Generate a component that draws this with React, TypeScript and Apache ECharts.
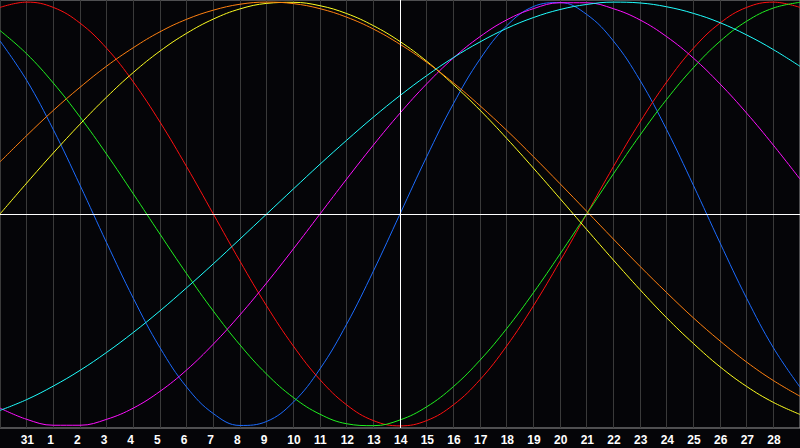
import React, { useEffect, useRef } from 'react';
import * as echarts from 'echarts';

// Day labels: Jan 30 .. Mar 1, only the inner ones are shown
const days: string[] = [
  '30', '31', '1', '2', '3', '4', '5', '6', '7', '8', '9', '10', '11', '12', '13', '14',
  '15', '16', '17', '18', '19', '20', '21', '22', '23', '24', '25', '26', '27', '28', '1',
];

// Cycle values (-1 .. 1), one per day
const physical: number[] = [
  0.817, 0.631, 0.398, 0.136, -0.136, -0.398, -0.631, -0.817, -0.942, -0.998, -0.979,
  -0.888, -0.731, -0.52, -0.27, 0, 0.27, 0.52, 0.731, 0.888, 0.979, 0.998, 0.942, 0.817,
  0.631, 0.398, 0.136, -0.136, -0.398, -0.631, -0.817,
];
const emotional: number[] = [
  0.975, 1.0, 0.975, 0.901, 0.782, 0.623, 0.434, 0.223, 0, -0.223, -0.434, -0.623, -0.782,
  -0.901, -0.975, -1.0, -0.975, -0.901, -0.782, -0.623, -0.434, -0.223, 0, 0.223, 0.434,
  0.623, 0.782, 0.901, 0.975, 1.0, 0.975,
];
const intellectual: number[] = [
  0.866, 0.756, 0.618, 0.458, 0.282, 0.095, -0.095, -0.282, -0.458, -0.618, -0.756, -0.866,
  -0.945, -0.99, -0.999, -0.972, -0.91, -0.815, -0.69, -0.541, -0.372, -0.189, 0, 0.189,
  0.372, 0.541, 0.69, 0.815, 0.91, 0.972, 0.999,
];
const intuitive: number[] = [
  -0.916, -0.969, -0.997, -0.997, -0.969, -0.916, -0.837, -0.736, -0.614, -0.476, -0.325,
  -0.165, 0, 0.165, 0.325, 0.476, 0.614, 0.736, 0.837, 0.916, 0.969, 0.997, 0.997, 0.969,
  0.916, 0.837, 0.736, 0.614, 0.476, 0.325, 0.165,
];
const aesthetic: number[] = [
  0, 0.146, 0.288, 0.424, 0.552, 0.668, 0.769, 0.853, 0.92, 0.968, 0.994, 0.999, 0.983,
  0.946, 0.889, 0.814, 0.721, 0.611, 0.49, 0.357, 0.217, 0.073, -0.073, -0.217, -0.357,
  -0.49, -0.611, -0.721, -0.814, -0.889, -0.946,
];
const awareness: number[] = [
  0.246, 0.37, 0.489, 0.598, 0.698, 0.785, 0.86, 0.919, 0.962, 0.99, 1.0, 0.993, 0.969,
  0.929, 0.873, 0.801, 0.716, 0.619, 0.511, 0.395, 0.271, 0.143, 0.013, -0.118, -0.247,
  -0.371, -0.49, -0.599, -0.699, -0.786, -0.86,
];
const spiritual: number[] = [
  -0.927, -0.876, -0.812, -0.738, -0.653, -0.559, -0.457, -0.348, -0.235, -0.118, 0, 0.118,
  0.235, 0.348, 0.457, 0.559, 0.653, 0.738, 0.812, 0.876, 0.927, 0.965, 0.989, 1.0, 0.996,
  0.978, 0.947, 0.903, 0.845, 0.776, 0.697,
];

const cycles = [
  { name: 'Physical', color: '#1c6cff', data: physical },
  { name: 'Emotional', color: '#ff1010', data: emotional },
  { name: 'Intellectual', color: '#20f020', data: intellectual },
  { name: 'Intuitive', color: '#ff10ff', data: intuitive },
  { name: 'Aesthetic', color: '#ffff20', data: aesthetic },
  { name: 'Awareness', color: '#ff8010', data: awareness },
  { name: 'Spiritual', color: '#20ffff', data: spiritual },
];

const App: React.FC = () => {
  const chartRef = useRef<HTMLDivElement>(null);

  useEffect(() => {
    if (!chartRef.current) return;
    document.body.style.margin = '0';
    document.body.style.background = '#050508';

    const chart = echarts.init(chartRef.current, undefined, { renderer: 'svg' });

    const options: echarts.EChartsOption = {
      animation: false,
      backgroundColor: '#050508',
      grid: {
        left: 0,
        right: -1,
        top: 0,
        bottom: 20,
        show: true,
        borderColor: '#9a9a9a',
        borderWidth: 1,
      },
      xAxis: {
        type: 'category',
        data: days,
        boundaryGap: false,
        axisLine: { show: true, lineStyle: { color: '#a8a8a8', width: 1 } },
        axisTick: { show: false },
        axisLabel: {
          interval: (index: number) => index > 0 && index < days.length - 1,
          formatter: (v: string) => `{d|${v}}`,
          rich: {
            d: {
              width: 12,
              align: 'left',
              color: '#ffffff',
              fontFamily: 'Liberation Sans',
              fontWeight: 'bold',
              fontSize: 12,
            },
          },
          margin: 6,
        },
        splitLine: { show: true, interval: 0, lineStyle: { color: '#3a3a3a', width: 1 } },
      },
      yAxis: {
        type: 'value',
        min: -1.01,
        max: 1.01,
        show: false,
        splitLine: { show: false },
      },
      series: cycles.map((c, i) => ({
        name: c.name,
        type: 'line' as const,
        data: c.data,
        smooth: 0.4,
        showSymbol: false,
        lineStyle: { color: c.color, width: 1 },
        itemStyle: { color: c.color },
        z: 3,
        markLine:
          i === 0
            ? {
                silent: true,
                symbol: 'none',
                label: { show: false },
                lineStyle: { color: '#ffffff', width: 1, type: 'solid' },
                data: [{ xAxis: 15 }, { yAxis: 0 }],
              }
            : undefined,
      })),
    };

    chart.setOption(options);

    return () => {
      chart.dispose();
    };
  }, []);

  return <div ref={chartRef} style={{ width: 800, height: 448 }} />;
};

export default App;
